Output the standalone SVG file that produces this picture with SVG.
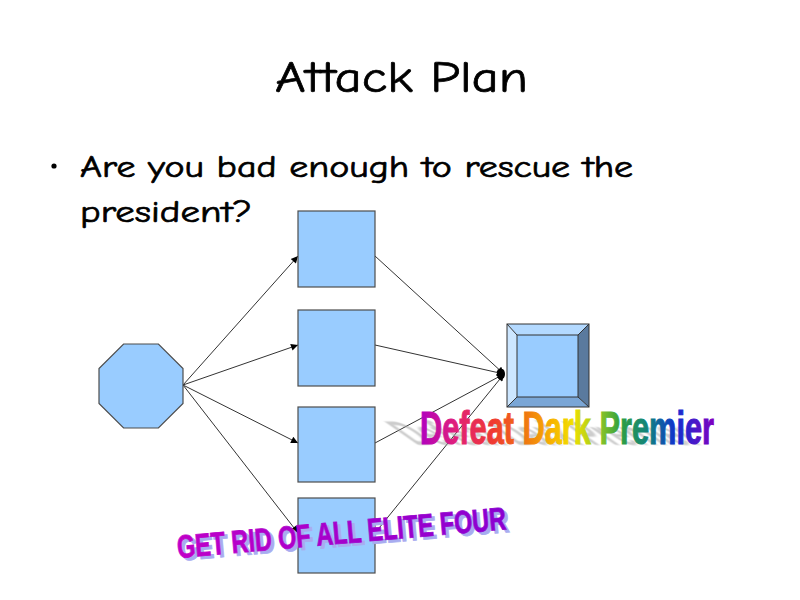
<svg xmlns="http://www.w3.org/2000/svg" width="800" height="600" viewBox="0 0 800 600">
  <defs>
    <style>
      .hand { font-family: "Comic Sans MS", "Comic Neue", "DejaVu Sans", sans-serif; fill: #000; stroke: #000; stroke-width: 0.7; }
      .box { fill: #99ccff; stroke: #4d4d4d; stroke-width: 1.2; }
      .link { stroke: #333; stroke-width: 1; fill: none; marker-end: url(#head); }
      .art { font-family: "Liberation Sans Narrow", "Liberation Sans", Arial, sans-serif; font-weight: bold; }
    </style>
    <marker id="head" viewBox="0 0 10 10" refX="10" refY="5" markerWidth="9" markerHeight="7" markerUnits="userSpaceOnUse" orient="auto">
      <path d="M0,0 L10,5 L0,10 z" fill="#000"/>
    </marker>
    <linearGradient id="rainbow" gradientUnits="userSpaceOnUse" x1="420" y1="0" x2="714" y2="0">
      <stop offset="0" stop-color="#b000c0"/>
      <stop offset="0.12" stop-color="#e0207a"/>
      <stop offset="0.25" stop-color="#f03a30"/>
      <stop offset="0.36" stop-color="#f07810"/>
      <stop offset="0.45" stop-color="#f8b400"/>
      <stop offset="0.52" stop-color="#f0e000"/>
      <stop offset="0.6" stop-color="#a0cc20"/>
      <stop offset="0.68" stop-color="#30a040"/>
      <stop offset="0.78" stop-color="#108080"/>
      <stop offset="0.87" stop-color="#1030d0"/>
      <stop offset="1" stop-color="#8000c0"/>
    </linearGradient>
    <linearGradient id="violet" gradientUnits="userSpaceOnUse" x1="178" y1="0" x2="507" y2="0">
      <stop offset="0" stop-color="#c000c8"/>
      <stop offset="1" stop-color="#8a00d0"/>
    </linearGradient>
    <filter id="soft" x="-10%" y="-30%" width="120%" height="160%">
      <feGaussianBlur stdDeviation="0.8"/>
    </filter>
  </defs>

  <rect width="800" height="600" fill="#fff"/>

  <!-- heading and bullet -->
  <g id="title">
    <text class="hand" x="275" y="92" font-size="44" textLength="253" lengthAdjust="spacingAndGlyphs">Attack Plan</text>
  </g>
  <g id="bullet">
    <circle cx="54" cy="166" r="2.6" fill="#000"/>
    <text class="hand" x="80" y="177" font-size="31" textLength="553" lengthAdjust="spacingAndGlyphs">Are you bad enough to rescue the</text>
    <text class="hand" x="80" y="222" font-size="31" textLength="172" lengthAdjust="spacingAndGlyphs">president?</text>
  </g>

  <!-- connectors -->
  <g id="connectors">
    <line class="link" x1="183" y1="385" x2="298" y2="256"/>
    <line class="link" x1="183" y1="385" x2="298" y2="345"/>
    <line class="link" x1="183" y1="385" x2="298" y2="443"/>
    <line class="link" x1="183" y1="385" x2="298" y2="533"/>
    <line class="link" x1="375" y1="256" x2="504" y2="374"/>
    <line class="link" x1="375" y1="345" x2="504" y2="374"/>
    <line class="link" x1="375" y1="443" x2="504" y2="374"/>
    <line class="link" x1="375" y1="533" x2="504" y2="374"/>
    <ellipse cx="502" cy="374" rx="3" ry="5" fill="#000"/>
  </g>

  <!-- start node -->
  <g id="start">
    <polygon class="box" points="123.6,344 158.4,344 183,368.6 183,403.4 158.4,428 123.6,428 99,403.4 99,368.6"/>
  </g>

  <!-- intermediate steps -->
  <g id="step1"><rect class="box" x="298" y="211" width="77" height="76"/></g>
  <g id="step2"><rect class="box" x="298" y="310" width="77" height="76"/></g>
  <g id="step3"><rect class="box" x="298" y="407" width="77" height="75"/></g>
  <g id="step4"><rect class="box" x="298" y="498" width="77" height="75"/></g>

  <!-- goal: bevelled box -->
  <g id="goal">
    <polygon points="507,324 589,324 578,335 517,335" fill="#b3d9ff"/>
    <polygon points="507,324 517,335 517,397 507,407" fill="#cce6ff"/>
    <polygon points="589,324 589,407 578,397 578,335" fill="#5a7a9e"/>
    <polygon points="507,407 517,397 578,397 589,407" fill="#7aa6d6"/>
    <rect x="517" y="335" width="61" height="62" fill="#99ccff"/>
    <g stroke="#333" stroke-width="1" fill="none">
      <rect x="507" y="324" width="82" height="83"/>
      <rect x="517" y="335" width="61" height="62"/>
      <line x1="507" y1="324" x2="517" y2="335"/>
      <line x1="589" y1="324" x2="578" y2="335"/>
      <line x1="507" y1="407" x2="517" y2="397"/>
      <line x1="589" y1="407" x2="578" y2="397"/>
    </g>
  </g>

  <!-- rainbow caption with cast shadow -->
  <g id="caption-premier">
    <g transform="translate(416,445) skewX(55) scale(1,0.72)" filter="url(#soft)">
      <text class="art" x="0" y="0" font-size="47" fill="#9a9a9a" fill-opacity="0.5" textLength="290" lengthAdjust="spacingAndGlyphs">Defeat Dark Premier</text>
    </g>
    <text class="art" x="420" y="444" font-size="47" fill="url(#rainbow)" stroke="url(#rainbow)" stroke-width="1" textLength="294" lengthAdjust="spacingAndGlyphs">Defeat Dark Premier</text>
  </g>

  <!-- violet caption -->
  <g id="caption-elite" transform="rotate(-5 178 558)">
    <text class="art" x="181" y="561" font-size="32" fill="#a8acf0" stroke="#a8acf0" stroke-width="0.8" textLength="330" lengthAdjust="spacingAndGlyphs">GET RID OF ALL ELITE FOUR</text>
    <text class="art" x="178" y="558" font-size="32" fill="url(#violet)" stroke="url(#violet)" stroke-width="0.8" textLength="330" lengthAdjust="spacingAndGlyphs">GET RID OF ALL ELITE FOUR</text>
  </g>
</svg>
